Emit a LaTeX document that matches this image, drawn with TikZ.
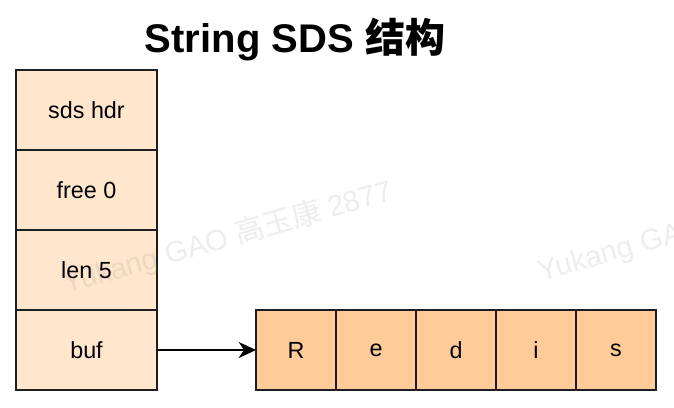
\documentclass[tikz,border=0pt]{standalone}
\usepackage{fontspec}
\setmainfont{Liberation Sans}
\newfontfamily\cjk{Noto Sans CJK SC}
\usetikzlibrary{arrows.meta}

\definecolor{hdrfill}{RGB}{255,230,204}
\definecolor{charfill}{RGB}{255,204,153}
\definecolor{boxline}{RGB}{30,30,30}
\definecolor{wmark}{RGB}{120,120,120}

\tikzset{
  hdrbox/.style={draw=boxline, line width=1pt, fill=hdrfill, minimum width=105.75pt, minimum height=60pt, inner sep=0pt, outer sep=0pt, font=\fontsize{17.5pt}{20pt}\selectfont},
  charbox/.style={draw=boxline, line width=1pt, fill=charfill, minimum width=60pt, minimum height=60pt, inner sep=0pt, outer sep=0pt, font=\fontsize{17.5pt}{20pt}\selectfont},
  wmtext/.style={text=wmark, text opacity=0.13, rotate=16, inner sep=0pt, font=\fontsize{22pt}{26pt}\selectfont},
}

\begin{document}
\begin{tikzpicture}[x=0.75pt,y=0.75pt,yscale=-1,xscale=1]
\useasboundingbox (0,0) rectangle (674,407);
\clip (0,0) rectangle (674,407);
\fill[white] (0,0) rectangle (674,407);

% Text Node
\node (title) at (295,40) {\fontsize{30pt}{34pt}\selectfont\bfseries String SDS {\cjk\bfseries 结构}};

%Shape: Rectangle
\node [hdrbox] (hdr) at (86.5,110) {sds hdr};
%Shape: Rectangle
\node [hdrbox] (free) at (86.5,190) {free 0};
%Shape: Rectangle
\node [hdrbox] (len) at (86.5,270) {len 5};
%Shape: Rectangle
\node [hdrbox] (buf) at (86.5,350) {buf};

%Shape: Rectangle
\node [charbox] (cR) at (296,350) {R};
\node [charbox] (ce) at (376,350) {e};
\node [charbox] (cd) at (456,350) {d};
\node [charbox] (ci) at (536,350) {i};
\node [charbox] (cs) at (616,350) {s};

%Straight Lines
\draw [line width=1pt, -{Stealth[length=13pt,width=12pt,inset=4pt]}] (buf.east) -- (cR.west);

% Text Node
\node [wmtext, anchor=base west] (wm1) at (66,294) {Yukang GAO {\cjk 高玉康} 2877};
% Text Node
\node [wmtext, anchor=base west] (wm2) at (541,282) {Yukang GAO {\cjk 高玉康} 2877};

\end{tikzpicture}
\end{document}
